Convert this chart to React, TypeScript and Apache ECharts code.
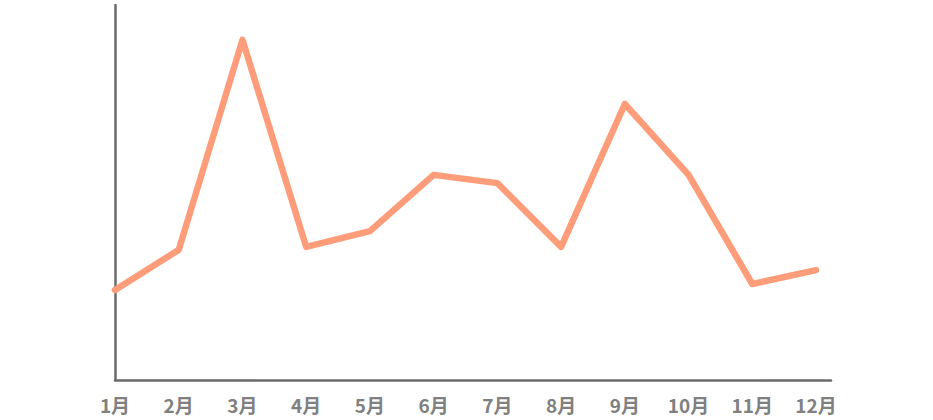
import React, { useEffect, useRef } from "react";
import * as echarts from "echarts";

const months = ["1月", "2月", "3月", "4月", "5月", "6月", "7月", "8月", "9月", "10月", "11月", "12月"];
const values = [24, 34.7, 90.7, 35.5, 39.7, 54.7, 52.5, 35.5, 73.6, 54.7, 25.6, 29.3];
const yMax = 100;
const xMax = 11.235;

export default function App() {
  const ref = useRef<HTMLDivElement>(null);
  useEffect(() => {
    document.body.style.margin = "0";
    if (!ref.current) return;
    const chart = echarts.init(ref.current, undefined, { renderer: "svg" });
    chart.setOption({
      animation: false,
      grid: { left: 115, right: 102, top: 5, bottom: 40, containLabel: false },
      xAxis: {
        type: "value",
        min: 0,
        max: xMax,
        interval: 1,
        axisLine: { show: true, lineStyle: { color: "#6b6b6b", width: 2.5 } },
        axisTick: { show: false },
        axisLabel: {
          color: "#808080",
          fontSize: 19,
          fontWeight: "bold",
          fontFamily: "'Noto Sans CJK SC', 'Noto Sans', sans-serif",
          margin: 15,
          showMaxLabel: false,
          formatter: (v: number) => {
            const i = Math.round(v);
            return Math.abs(v - i) < 1e-6 && months[i] ? months[i] : "";
          },
        },
        splitLine: { show: false },
      },
      yAxis: {
        type: "value",
        min: 0,
        max: yMax,
        axisLine: { show: true, lineStyle: { color: "#6b6b6b", width: 2.5 } },
        axisTick: { show: false },
        axisLabel: { show: false },
        splitLine: { show: false },
      },
      series: [
        {
          type: "line",
          data: values.map((v, i) => [i, v]),
          symbol: "none",
          lineStyle: { color: "#ff9d7a", width: 6.5, cap: "round", join: "round" },
        },
      ],
    });
    return () => chart.dispose();
  }, []);
  return <div ref={ref} style={{ width: 933, height: 420 }} />;
}
